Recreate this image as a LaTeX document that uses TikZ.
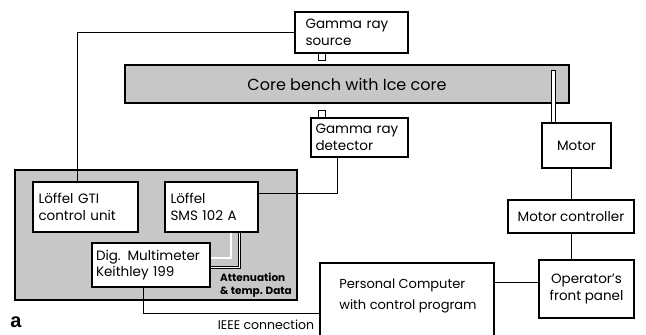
\documentclass[tikz,border=0pt]{standalone}
\usepackage{fontspec}
\setmainfont{Poppins}
\newfontfamily\tagfont{Liberation Sans}
\begin{document}
\begin{tikzpicture}[x=1pt, y=-1pt, line width=1.1pt,
    box/.style={draw, fill=white, rectangle, inner sep=0pt, font=\fontsize{13.5}{16.5}\selectfont},
    lbox/.style={box, align=left, text width=#1},
    wire/.style={line width=1pt},
    pair/.style={double, double distance=1.1pt, line width=0.9pt}]
    \useasboundingbox (0,0) rectangle (646,335);
    \clip (0,0) rectangle (646,335);

    % Bench and probes
    \node[draw, fill=black!22, rectangle, minimum width=444pt, minimum height=38pt, font=\fontsize{16}{18}\selectfont] (bench) at (347,84) {Core bench with Ice core};
    \node[lbox=92pt, minimum width=113pt, minimum height=41pt] (src) at (351.5,32.5) {Gamma ray\\source};
    \node[lbox=88pt, minimum width=97pt, minimum height=39pt] (det) at (359.5,137.5) {Gamma ray\\detector};
    \node[box, minimum size=7pt] (srcsq) at (322,57) {};
    \node[box, minimum size=7pt] (detsq) at (322,114) {};

    % Motor side
    \coordinate (shaft) at (551,70);
    \coordinate (shaftend) at (555,0);
    \node[box, minimum width=69pt, minimum height=45pt] (motor) at (576.5,145.5) {Motor};
    \node[box, minimum width=126pt, minimum height=33pt] (mctrl) at (571,216.5) {Motor controller};
    \node[box, align=center, minimum width=95pt, minimum height=58pt] (panel) at (586.5,289) {Operator's\\front panel};
    \node[box, minimum width=174pt, minimum height=84pt] (pc) at (407,305) {};
    \node[align=left, font=\fontsize{13}{21}\selectfont] (pctext) at (408,296) {Personal Computer\\with control program};
    \coordinate (ieee) at (320,313);

    % Rack with the electronics
    \node[draw, fill=black!22, rectangle, minimum width=282pt, minimum height=130pt] (rack) at (156,235) {};
    \node[lbox=94pt, minimum width=105pt, minimum height=50pt] (gti) at (85.5,207) {Löffel GTI\\control unit};
    \node[lbox=82pt, minimum width=93pt, minimum height=50pt] (sms) at (211.5,207) {Löffel\\SMS 102 A};
    \node[lbox=110pt, minimum width=118pt, minimum height=44pt] (dmm) at (151,265) {Dig. Multimeter\\Keithley 199};
    \node[align=left, font=\fontsize{10.5}{12.5}\selectfont\bfseries] (data) at (256,285) {Attenuation\\\& temp. Data};

    % Connections
    \draw[wire] ([xshift=-8.5pt]gti.north) |- (src.west);
    \draw[wire] ([xshift=-22.5pt]det.south) |- ([yshift=14pt]sms.east);
    \draw[pair] ([xshift=19.5pt]sms.south) |- ([yshift=7pt]dmm.east);
    \draw[pair] ([xshift=28pt]sms.south) |- ([yshift=-2.5pt]dmm.east);
    \draw[wire] ([xshift=-8pt]dmm.south) |- (ieee);
    \draw[fill=white, line width=0.7pt] (shaft) rectangle (shaftend |- motor.north);
    \draw[wire] (mctrl.north |- motor.south) -- (mctrl.north);
    \draw[wire] (mctrl.south) -- (mctrl.south |- panel.north);
    \draw[wire] ([yshift=7pt]panel.west) -- ([yshift=7pt]panel.west -| pc.east);

    % Labels
    \node[font=\fontsize{12.5}{14}\selectfont] (ieeelab) at (266,325) {IEEE connection};
    \node[font=\tagfont\fontsize{20}{20}\selectfont\bfseries] (tag) at (16,322) {a};
\end{tikzpicture}
\end{document}
